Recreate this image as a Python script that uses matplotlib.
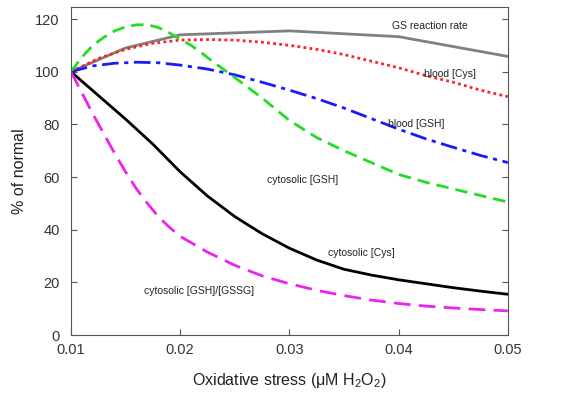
import numpy as np
import matplotlib
matplotlib.use("Agg")
import matplotlib.pyplot as plt

plt.rcParams['font.family'] = ['Liberation Sans', 'DejaVu Sans']

# values (x in uM H2O2, y in % of normal)
gs_x = [0.010, 0.015, 0.0195, 0.020, 0.030, 0.040, 0.050]
gs_y = [100, 109, 113.5, 114, 115.5, 113.3, 105.8]

bcys_x = [0.010, 0.0125, 0.015, 0.0175, 0.020, 0.0225, 0.025, 0.0275, 0.030,
          0.0325, 0.035, 0.0375, 0.040, 0.0425, 0.045, 0.0475, 0.050]
bcys_y = [100, 105, 108.5, 110.8, 112, 112.2, 112, 111.2, 110,
          108.5, 106.5, 104, 101.5, 98.5, 96, 93, 90.5]

bgsh_x = [0.010, 0.012, 0.014, 0.016, 0.018, 0.020, 0.0225, 0.025, 0.0275, 0.030,
          0.0325, 0.035, 0.0375, 0.040, 0.0425, 0.045, 0.0475, 0.050]
bgsh_y = [100, 102.2, 103.2, 103.6, 103.4, 102.5, 101, 98.8, 96, 93,
          89.8, 86.2, 82.2, 78.2, 74.5, 71.3, 68.2, 65.5]

cgsh_x = [0.010, 0.011, 0.012, 0.013, 0.014, 0.015, 0.016, 0.017, 0.018, 0.019,
          0.020, 0.021, 0.022, 0.023, 0.024, 0.025, 0.0275, 0.030, 0.0325, 0.035,
          0.0375, 0.040, 0.0425, 0.045, 0.0475, 0.050]
cgsh_y = [100, 105.5, 110, 113, 115.5, 117, 117.8, 117.8, 116.8, 114.8,
          112.3, 110, 107, 103.8, 100.8, 97.8, 90, 81.5, 75, 70,
          65.5, 61, 58, 55.5, 53, 50.5]

ccys_x = [0.010, 0.0125, 0.015, 0.0175, 0.020, 0.0225, 0.025, 0.0275, 0.030,
          0.0325, 0.035, 0.0375, 0.040, 0.0425, 0.045, 0.0475, 0.050]
ccys_y = [100, 91, 82, 72.5, 62, 52.8, 45, 38.5, 33,
          28.5, 25, 22.8, 21, 19.5, 18, 16.7, 15.5]

ratio_x = [0.010, 0.011, 0.012, 0.013, 0.014, 0.015, 0.016, 0.017, 0.018, 0.019,
           0.020, 0.0225, 0.025, 0.0275, 0.030, 0.0325, 0.035, 0.0375, 0.040,
           0.0425, 0.045, 0.0475, 0.050]
ratio_y = [100, 92, 84, 76.5, 69, 62, 55.5, 50, 45, 41,
           37.5, 31.5, 26.5, 22.5, 19.5, 17, 15, 13.3, 12,
           11, 10.3, 9.7, 9.2]

fig = plt.figure(figsize=(5.63, 3.98), dpi=100)
ax = fig.add_axes([0.126, 0.158, 0.776, 0.824])

ax.plot(gs_x, gs_y, color='#808080', lw=2)
ax.plot(bcys_x, bcys_y, color='#ff2020', lw=2, linestyle=(0, (1, 1.2)))
ax.plot(bgsh_x, bgsh_y, color='#1a1aff', lw=2, linestyle=(0, (6, 2, 1.5, 2)))
ax.plot(cgsh_x, cgsh_y, color='#22dd22', lw=2, linestyle=(0, (4.5, 2.5)))
ax.plot(ccys_x, ccys_y, color='black', lw=2)
ax.plot(ratio_x, ratio_y, color='#ee22ee', lw=2, linestyle=(0, (6, 3)))

fs = 7.5
tc = '#222222'
ax.text(0.0429, 117.5, 'GS reaction rate', fontsize=fs, ha='center', va='center', color=tc)
ax.text(0.0447, 99, 'blood [Cys]', fontsize=fs, ha='center', va='center', color=tc)
ax.text(0.0416, 80, 'blood [GSH]', fontsize=fs, ha='center', va='center', color=tc)
ax.text(0.0312, 59, 'cytosolic [GSH]', fontsize=fs, ha='center', va='center', color=tc)
ax.text(0.0366, 31, 'cytosolic [Cys]', fontsize=fs, ha='center', va='center', color=tc)
ax.text(0.0217, 16.7, 'cytosolic [GSH]/[GSSG]', fontsize=fs, ha='center', va='center', color=tc)

ax.set_xlim(0.01, 0.05)
ax.set_ylim(0, 124.5)
ax.set_xticks([0.01, 0.02, 0.03, 0.04, 0.05])
ax.set_xticklabels(['0.01', '0.02', '0.03', '0.04', '0.05'])
ax.set_yticks([0, 20, 40, 60, 80, 100, 120])
ax.tick_params(direction='in', right=True, labelsize=10.5, length=4, color='#555555',
               labelcolor='#333333')
ax.tick_params(axis='y', pad=8)
ax.tick_params(axis='x', pad=6)
for s in ax.spines.values():
    s.set_color('#555555')

ax.set_xlabel(r'Oxidative stress ($\mathregular{\mu}$M H$_\mathregular{2}$O$_\mathregular{2}$)',
              fontsize=11.5, labelpad=10, color='#222222')
ax.set_ylabel('% of normal', fontsize=11.5, labelpad=6, color='#222222')

fig.savefig('out.png', dpi=100)
